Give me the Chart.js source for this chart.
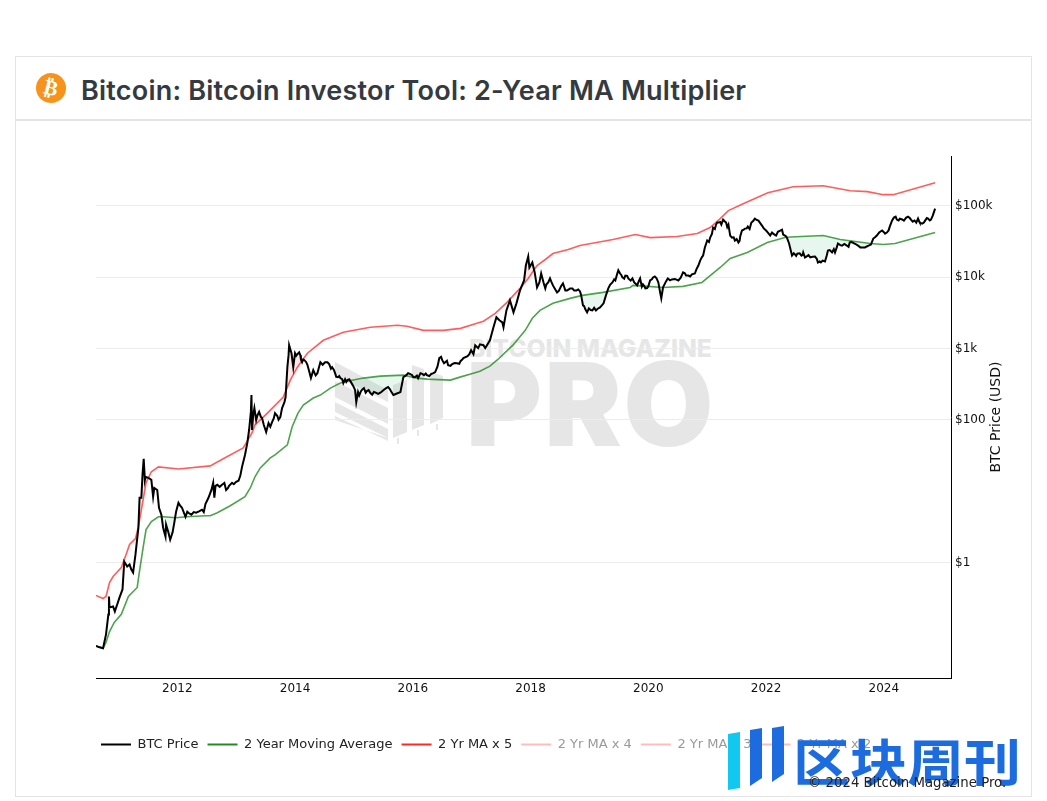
<!DOCTYPE html>
<html>
<head>
<meta charset="utf-8">
<title>Bitcoin Investor Tool: 2-Year MA Multiplier</title>
<script src="https://cdn.jsdelivr.net/npm/chart.js@4"></script>
<style>
  html, body { margin: 0; padding: 0; background: #fff; }
  #page { position: relative; width: 1047px; height: 801px; overflow: hidden; }
  #card { position: absolute; left: 15px; top: 56px; width: 1015px; height: 739px; border: 1px solid #e4e4e4; }
  #headline { position: absolute; left: 15px; top: 119px; width: 1016px; height: 2px; background: #e4e4e4; }
  #coin { position: absolute; left: 36px; top: 73px; width: 30px; height: 30px; border-radius: 50%; background: #f7931a;
          color: #fff; font: bold 21px/30px "DejaVu Sans"; text-align: center; transform: rotate(14deg); }
  #title { position: absolute; left: 81px; top: 73px; font: 600 27px/36px Inter; letter-spacing: 0.22px; color: #343a40; white-space: nowrap; }
  #wm1 { position: absolute; left: 469px; top: 334px; font: 800 24.6px/28px Inter; color: #e6e6e6; white-space: nowrap; }
  #wm2 { position: absolute; left: 466px; top: 344px; font: 900 116px/120px Inter; letter-spacing: 2px; color: #e6e6e6; white-space: nowrap; }
  #wmlogo { position: absolute; left: 0; top: 0; }
  canvas { position: absolute; left: 0; top: 0; }
  #bluelogo { position: absolute; left: 0; top: 0; }
  #bluetext { position: absolute; left: 793px; top: 723px; font: 700 57px/72px "Noto Sans CJK SC"; color: #1c6ce0; white-space: nowrap;
              transform: scaleY(0.88); transform-origin: left center; }
  #copy { position: absolute; left: 808px; top: 775px; font: 13.3px/16px "DejaVu Sans"; color: #222; white-space: nowrap; }
</style>
</head>
<body>
<div id="page">
  <div id="card"></div>
  <div id="headline"></div>
  <div id="coin">₿</div>
  <div id="title">Bitcoin: Bitcoin Investor Tool: 2-Year MA Multiplier</div>
  <div id="wm1">BITCOIN MAGAZINE</div>
  <div id="wm2">PRO</div>
  <svg id="wmlogo" width="1047" height="801" fill="#e6e6e6">
    <polygon points="335,362 388,390 388,402 335,376"/>
    <polygon points="335,381 388,408 388,424 335,397"/>
    <polygon points="335,402 388,429 388,438 335,412"/>
    <polygon points="335,416 388,441 388,438 335,420"/>
    <polygon points="393,385 407,380 407,432 393,438"/>
    <polygon points="397,438 399,438 399,444 397,444"/>
    <polygon points="412,365 424,369 424,425 412,430"/>
    <polygon points="417,430 419,430 419,436 417,436"/>
    <polygon points="430,372 443,376 443,418 430,424"/>
    <polygon points="436,424 438,424 438,430 436,430"/>
  </svg>
  <canvas id="chart" width="1047" height="801"></canvas>
  <svg id="bluelogo" width="1047" height="801">
    <polygon points="728,734 740,732 740,788 728,790" fill="#12c8f0"/>
    <polygon points="750,730 762,728 762,778 750,786" fill="#1c6ce0"/>
    <polygon points="772,728 784,726 784,774 772,782" fill="#1c6ce0"/>
  </svg>
  <div id="bluetext">区块周刊</div>
  <div id="copy">© 2024 Bitcoin Magazine Pro.</div>
</div>

<script>
// values
const priceYears = [
  2010.62, 2010.68, 2010.74, 2010.79, 2010.83, 2010.84, 2010.85, 2010.91, 2010.94, 2010.98, 2011.02, 2011.07, 2011.10, 2011.15, 2011.19,
  2011.22, 2011.25, 2011.29, 2011.34, 2011.36, 2011.39, 2011.41, 2011.43, 2011.45, 2011.46, 2011.51, 2011.56, 2011.59, 2011.61, 2011.66,
  2011.69, 2011.73, 2011.76, 2011.80, 2011.81, 2011.85, 2011.88, 2011.92, 2011.95, 2011.98, 2012.02, 2012.05, 2012.08, 2012.14, 2012.17,
  2012.24, 2012.32, 2012.42, 2012.48, 2012.53, 2012.58, 2012.61, 2012.63, 2012.65, 2012.68, 2012.76, 2012.83, 2012.88, 2012.93, 2013.00,
  2013.07, 2013.10, 2013.15, 2013.19, 2013.22, 2013.25, 2013.26, 2013.27, 2013.29, 2013.31, 2013.34, 2013.39, 2013.44, 2013.47, 2013.51,
  2013.55, 2013.61, 2013.66, 2013.70, 2013.75, 2013.78, 2013.82, 2013.84, 2013.87, 2013.89, 2013.90, 2013.92, 2013.94, 2013.97, 2014.00,
  2014.04, 2014.09, 2014.12, 2014.16, 2014.19, 2014.24, 2014.27, 2014.31, 2014.38, 2014.43, 2014.51, 2014.58, 2014.63, 2014.68, 2014.73,
  2014.77, 2014.82, 2014.85, 2014.89, 2014.95, 2014.99, 2015.02, 2015.04, 2015.07, 2015.12, 2015.17, 2015.22, 2015.28, 2015.34, 2015.41,
  2015.50, 2015.58, 2015.63, 2015.67, 2015.75, 2015.82, 2015.84, 2015.89, 2015.92, 2015.99, 2016.04, 2016.09, 2016.13, 2016.19, 2016.24,
  2016.31, 2016.38, 2016.45, 2016.50, 2016.55, 2016.60, 2016.67, 2016.75, 2016.81, 2016.86, 2016.93, 2016.96, 2016.99, 2017.03, 2017.06,
  2017.11, 2017.14, 2017.20, 2017.23, 2017.28, 2017.31, 2017.37, 2017.42, 2017.47, 2017.52, 2017.54, 2017.59, 2017.65, 2017.71, 2017.76,
  2017.82, 2017.89, 2017.92, 2017.96, 2017.98, 2018.03, 2018.07, 2018.11, 2018.15, 2018.18, 2018.22, 2018.25, 2018.30, 2018.33, 2018.38,
  2018.45, 2018.50, 2018.55, 2018.59, 2018.62, 2018.67, 2018.71, 2018.78, 2018.84, 2018.86, 2018.89, 2018.93, 2018.96, 2018.99, 2019.05,
  2019.11, 2019.18, 2019.24, 2019.28, 2019.32, 2019.39, 2019.44, 2019.49, 2019.52, 2019.56, 2019.61, 2019.66, 2019.73, 2019.78, 2019.81,
  2019.86, 2019.91, 2019.95, 2020.00, 2020.03, 2020.08, 2020.11, 2020.17, 2020.20, 2020.22, 2020.25, 2020.30, 2020.33, 2020.40, 2020.51,
  2020.59, 2020.64, 2020.68, 2020.74, 2020.79, 2020.85, 2020.88, 2020.93, 2020.96, 2021.00, 2021.05, 2021.10, 2021.15, 2021.19, 2021.24,
  2021.27, 2021.32, 2021.36, 2021.39, 2021.42, 2021.47, 2021.53, 2021.56, 2021.59, 2021.64, 2021.69, 2021.75, 2021.81, 2021.87, 2021.93,
  2022.00, 2022.07, 2022.12, 2022.17, 2022.24, 2022.29, 2022.32, 2022.36, 2022.39, 2022.44, 2022.49, 2022.53, 2022.60, 2022.63, 2022.66,
  2022.75, 2022.83, 2022.88, 2022.93, 2023.00, 2023.03, 2023.05, 2023.12, 2023.17, 2023.22, 2023.29, 2023.37, 2023.42, 2023.47, 2023.56,
  2023.64, 2023.71, 2023.78, 2023.82, 2023.88, 2023.97, 2024.02, 2024.05, 2024.10, 2024.17, 2024.22, 2024.27, 2024.34, 2024.41, 2024.46,
  2024.49, 2024.55, 2024.58, 2024.61, 2024.65, 2024.70, 2024.75, 2024.80, 2024.83, 2024.87
];
const priceValues = [
  0.068, 0.065, 0.0629, 0.0987, 0.188, 0.335, 0.235, 0.243, 0.207, 0.259, 0.325, 0.42, 1.03, 0.879, 0.938,
  0.798, 0.725, 1.29, 3.08, 8.09, 8.09, 16.9, 28.4, 14.4, 15.9, 15.4, 14.4, 8.35, 11.1, 10.4,
  5.86, 4.68, 3.08, 2.31, 3.40, 2.63, 2.09, 2.63, 3.62, 5.16, 6.88, 6.25, 5.86, 4.38, 5.16,
  4.68, 4.99, 5.5, 6.67, 8.09, 10.4, 13.1, 8.09, 11.9, 12.3, 12.3, 10.4, 11.9, 13.1, 13.5,
  16.4, 21.9, 32.2, 47.4, 72, 129, 222, 72, 117, 146, 99, 129, 106, 84.6, 67.5,
  90, 93, 124, 113, 109, 146, 177, 208, 546, 804, 1110, 975, 857, 546, 857,
  830, 804, 641, 684, 641, 480, 384, 496, 450, 641, 641, 602, 546, 450, 396,
  384, 327, 371, 360, 337, 296, 260, 177, 245, 252, 278, 252, 237, 245, 230,
  260, 287, 252, 222, 237, 327, 396, 422, 450, 422, 396, 384, 450, 422, 422,
  436, 465, 730, 684, 641, 582, 602, 621, 663, 730, 778, 830, 944, 830, 1110,
  1010, 1140, 1110, 1010, 1180, 1300, 1980, 2730, 2480, 2320, 1980, 3410, 4710, 3200, 4280,
  6500, 8960, 14500, 19400, 13600, 16000, 11600, 7150, 8400, 11200, 8400, 6930, 8400, 9560, 7630,
  6090, 6930, 8140, 6500, 6500, 6930, 6930, 6500, 6290, 5530, 4010, 3530, 3200, 3640, 3410,
  3410, 3760, 4280, 5530, 6930, 8400, 8960, 12400, 11200, 9870, 10500, 9560, 9560, 8140, 7630,
  9560, 7880, 6930, 7390, 8960, 9870, 10200, 8400, 6090, 5020, 7150, 8680, 9560, 9250, 8960,
  11600, 10500, 10500, 10900, 11200, 14500, 17000, 20000, 25900, 32500, 35700, 49300, 54300, 57900, 54300,
  63700, 57900, 54300, 38100, 35700, 32500, 30400, 36900, 44800, 47700, 50900, 57900, 65800, 61700, 52600,
  44800, 38100, 40600, 38100, 44800, 39400, 38100, 34600, 29500, 20000, 20700, 21300, 20000, 22100, 18800,
  18800, 19400, 16000, 16000, 16500, 20000, 23500, 22100, 22100, 29500, 27600, 27600, 30400, 30400, 27600,
  25900, 26800, 28500, 34600, 38100, 44800, 40600, 42000, 50900, 68000, 63700, 65800, 61700, 70200, 63700,
  59800, 57900, 65800, 57900, 56100, 61700, 65800, 63700, 72500, 90800
];
// extra wiggles of the price between the points above
const wiggleYears = [
  2012.20, 2012.28, 2012.37, 2012.45, 2012.72, 2012.80, 2012.86, 2012.96, 2013.04, 2013.36, 2013.42, 2013.58, 2013.64, 2013.72,
  2014.02, 2014.07, 2014.10, 2014.14, 2014.21, 2014.35, 2014.40, 2014.47, 2014.55, 2014.61, 2014.66, 2014.70, 2014.75, 2014.80, 2014.87, 2014.92,
  2015.09, 2015.14, 2015.20, 2015.25, 2015.31, 2015.37, 2015.45, 2015.54, 2015.61, 2015.70, 2015.79, 2015.95, 2016.01, 2016.07, 2016.16, 2016.22,
  2016.28, 2016.35, 2016.42, 2016.48, 2016.53, 2016.58, 2016.64, 2016.71, 2016.79, 2016.84,
  2018.27, 2018.35, 2018.42, 2018.48, 2018.52, 2018.57, 2018.65, 2018.74, 2018.81, 2018.91, 2019.02, 2019.08, 2019.14, 2019.21, 2019.35, 2019.42,
  2019.47, 2019.54, 2019.59, 2019.64, 2019.70, 2019.76, 2019.84, 2019.89, 2019.93, 2019.98, 2020.06, 2020.14,
  2020.37, 2020.45, 2020.55, 2020.62, 2020.71, 2020.82, 2020.91, 2020.98, 2021.03, 2021.08, 2021.13, 2021.17, 2021.22, 2021.30, 2021.34, 2021.45,
  2021.50, 2021.55, 2021.62, 2021.67, 2021.72, 2021.78, 2021.84, 2021.90, 2021.96, 2022.03, 2022.10, 2022.15, 2022.20, 2022.27, 2022.34,
  2022.47, 2022.51, 2022.57, 2022.62, 2022.69, 2022.72, 2022.79, 2022.86, 2022.91, 2022.96, 2023.08, 2023.15, 2023.20, 2023.26, 2023.33, 2023.40,
  2023.45, 2023.52, 2023.60, 2023.68, 2023.74, 2023.85, 2023.92, 2024.00, 2024.08, 2024.14, 2024.20, 2024.25, 2024.31, 2024.38, 2024.44, 2024.52,
  2024.60, 2024.68, 2024.73, 2024.78
];
const wiggleValues = [
  4.9, 5.1, 5.2, 5.1, 11.5, 13, 11, 12.5, 14, 115, 110, 80, 105, 100,
  790, 880, 700, 700, 590, 420, 520, 590, 640, 520, 500, 400, 410, 370, 340, 370,
  220, 265, 240, 260, 225, 240, 240, 275, 270, 228, 245, 440, 395, 415, 440, 445,
  410, 450, 560, 760, 620, 670, 570, 625, 610, 700,
  7900, 8700, 6700, 6400, 7500, 7300, 6700, 6500, 6700, 3900, 3450, 3700, 3600, 4000, 7800, 9300,
  11000, 10700, 9500, 10400, 8900, 8400, 8800, 7300, 7500, 7000, 9300, 9600,
  9000, 9400, 9800, 11300, 10200, 13000, 19000, 29000, 31000, 40000, 47000, 58000, 59000, 60000, 50000, 36000,
  34000, 32000, 46000, 48000, 47000, 61000, 63000, 57000, 48000, 42000, 42000, 39000, 43000, 46000, 37000,
  21500, 19800, 21500, 20500, 19500, 20300, 19200, 18000, 16500, 17000, 23800, 24500, 26000, 28000, 29000, 26500,
  31000, 29000, 26000, 26000, 27500, 36000, 42000, 42500, 45000, 62000, 70000, 62000, 64000, 68000, 67000, 62000,
  60000, 58000, 67000, 62000
];

const maYears = [
  2010.62, 2010.74, 2010.79, 2010.85, 2010.93, 2011.05, 2011.17, 2011.32, 2011.35, 2011.42, 2011.47, 2011.56, 2011.68, 2011.76, 2011.98,
  2012.15, 2012.49, 2012.56, 2012.68, 2012.90, 2013.15, 2013.24, 2013.32, 2013.41, 2013.58, 2013.66, 2013.87, 2013.95, 2014.05, 2014.14,
  2014.31, 2014.43, 2014.60, 2014.77, 2014.99, 2015.16, 2015.45, 2015.84, 2016.07, 2016.24, 2016.64, 2016.80, 2016.97, 2017.14, 2017.31,
  2017.45, 2017.70, 2017.91, 2018.03, 2018.16, 2018.38, 2018.67, 2018.88, 2019.23, 2019.69, 2019.74, 2020.00, 2020.25, 2020.59, 2020.91,
  2021.05, 2021.22, 2021.39, 2021.68, 2022.02, 2022.32, 2022.41, 2022.97, 2023.26, 2023.77, 2023.99, 2024.19, 2024.87
];
const maValues = [
  0.068, 0.0629, 0.0763, 0.108, 0.145, 0.188, 0.335, 0.448, 0.68, 1.62, 2.89, 3.74, 4.38, 4.38, 4.25,
  4.38, 4.53, 4.53, 4.99, 6.25, 8.35, 11.1, 15.9, 21.2, 29.3, 32.2, 44.5, 79.4, 124, 161,
  202, 222, 278, 327, 360, 384, 409, 422, 384, 371, 360, 396, 436, 480, 564,
  706, 1110, 1790, 2640, 3410, 4280, 5020, 5530, 6090, 7150, 7630, 7390, 7150, 7390, 8400,
  10500, 13600, 18200, 22100, 30400, 35700, 36300, 38100, 33500, 29500, 28500, 29500, 42000
];

const x5Years = [
  2010.62, 2010.74, 2010.79, 2010.85, 2010.91, 2011.05, 2011.13, 2011.19, 2011.29, 2011.34, 2011.42, 2011.47, 2011.56, 2011.68, 2012.02,
  2012.56, 2012.78, 2013.12, 2013.27, 2013.32, 2013.53, 2013.80, 2013.92, 2014.04, 2014.21, 2014.48, 2014.82, 2015.28, 2015.74, 2015.90,
  2016.18, 2016.52, 2016.81, 2017.09, 2017.20, 2017.40, 2017.60, 2017.82, 2017.96, 2018.11, 2018.25, 2018.38, 2018.64, 2018.84, 2019.40,
  2019.78, 2020.03, 2020.49, 2020.83, 2021.05, 2021.22, 2021.36, 2021.61, 2022.03, 2022.46, 2022.97, 2023.43, 2023.72, 2023.99, 2024.16, 2024.87
];
const x5Values = [
  0.346, 0.314, 0.335, 0.526, 0.637, 0.852, 1.29, 1.79, 2.16, 3.18, 7.58, 13.1, 18.7, 21.9, 20.5,
  22.6, 28.4, 40.4, 65.4, 84.6, 124, 208, 360, 546, 857, 1300, 1680, 1980, 2110, 2040,
  1790, 1790, 1910, 2250, 2400, 3100, 4420, 6930, 9560, 14500, 17600, 21300, 24300, 27600, 33500,
  39400, 35700, 36900, 40600, 49300, 65800, 85200, 106600, 151900, 184000, 190000, 162000, 157000, 142500, 142500, 210000
];

const yTickValues = [100000, 10000, 1000, 100, 1];
const yTickLabels = ['$100k', '$10k', '$1k', '$100', '$1'];
const xTickYears = [2012, 2014, 2016, 2018, 2020, 2022, 2024];
const hiddenNames = ['2 Yr MA x 4', '2 Yr MA x 3', '2 Yr MA x 2'];

function toPoints(xs, ys) {
  return xs.map(function (x, i) { return { x: x, y: ys[i] }; });
}

const pricePoints = toPoints(priceYears, priceValues)
  .concat(toPoints(wiggleYears, wiggleValues))
  .sort(function (a, b) { return a.x - b.x; });

const datasets = [
  {
    label: 'BTC Price',
    data: pricePoints,
    borderColor: '#000',
    borderWidth: 2,
    // pale red where the price sits over the x5 line
    fill: { target: 2, above: 'rgba(255,60,60,0.12)', below: 'rgba(0,0,0,0)' }
  },
  {
    label: '2 Year Moving Average',
    data: toPoints(maYears, maValues),
    borderColor: 'rgba(34,139,34,0.8)',
    borderWidth: 1.6,
    // pale green where the price drops under the average
    fill: { target: 0, above: 'rgba(60,190,120,0.12)', below: 'rgba(0,0,0,0)' }
  },
  {
    label: '2 Yr MA x 5',
    data: toPoints(x5Years, x5Values),
    borderColor: 'rgba(255,40,40,0.75)',
    borderWidth: 1.6,
    fill: false
  }
];
hiddenNames.forEach(function (name) {
  datasets.push({ label: name, data: [], hidden: true, borderColor: '#ffc0c0' });
});

const legendColors = ['#000', '#228b22', '#ff2828', '#ffbcbc', '#ffbcbc', '#ffbcbc'];

// right axis title reads bottom to top, Chart.js turns it the other way
const axisTitle = {
  id: 'axisTitle',
  afterDraw: function (chart) {
    const ctx = chart.ctx;
    ctx.save();
    ctx.translate(996, 417);
    ctx.rotate(-Math.PI / 2);
    ctx.font = '14px "DejaVu Sans"';
    ctx.fillStyle = '#111';
    ctx.textAlign = 'center';
    ctx.textBaseline = 'middle';
    ctx.fillText('BTC Price (USD)', 0, 0);
    ctx.restore();
  }
};

// legend sits a little left of the plot and at a fixed height
const legendPlace = {
  id: 'legendPlace',
  afterLayout: function (chart) {
    chart.legend.left = 92;
    chart.legend.top = 729;
  }
};

new Chart(document.getElementById('chart'), {
  type: 'line',
  data: { datasets: datasets },
  plugins: [axisTitle, legendPlace],
  options: {
    responsive: false,
    animation: false,
    layout: { padding: { left: 96, top: 156, right: 0, bottom: 0 } },
    elements: { point: { radius: 0 }, line: { tension: 0 } },
    scales: {
      x: {
        type: 'linear',
        position: 'bottom',
        min: 2010.62,
        max: 2025.14,
        border: { color: '#000', width: 1 },
        grid: { drawOnChartArea: false, drawTicks: false },
        afterBuildTicks: function (scale) {
          scale.ticks = xTickYears.map(function (v) { return { value: v }; });
        },
        afterFit: function (scale) { scale.height = 91; },
        ticks: {
          autoSkip: false,
          maxRotation: 0,
          padding: 4,
          color: '#111',
          font: { family: 'DejaVu Sans', size: 12 },
          callback: function (v) { return String(v); }
        }
      },
      y: {
        type: 'logarithmic',
        position: 'right',
        min: 0.02415,
        max: 496000,
        border: { color: '#000', width: 1 },
        grid: { color: '#ececec', drawTicks: false },
        afterBuildTicks: function (scale) {
          scale.ticks = yTickValues.map(function (v) { return { value: v }; });
        },
        afterFit: function (scale) { scale.width = 96; },
        ticks: {
          autoSkip: false,
          padding: 4,
          color: '#111',
          font: { family: 'DejaVu Sans', size: 12 },
          callback: function (v) { return yTickLabels[yTickValues.indexOf(v)]; }
        }
      }
    },
    plugins: {
      tooltip: { enabled: false },
      title: { display: false },
      legend: {
        display: true,
        position: 'bottom',
        align: 'start',
        labels: {
          boxWidth: 30,
          boxHeight: 2,
          padding: 9,
          font: { family: 'DejaVu Sans', size: 13 },
          generateLabels: function (chart) {
            return chart.data.datasets.map(function (d, i) {
              return {
                text: d.label,
                fillStyle: legendColors[i],
                strokeStyle: legendColors[i],
                lineWidth: 0,
                fontColor: d.hidden ? '#999' : '#222',
                hidden: false,
                datasetIndex: i
              };
            });
          }
        }
      }
    }
  }
});
</script>
</body>
</html>
